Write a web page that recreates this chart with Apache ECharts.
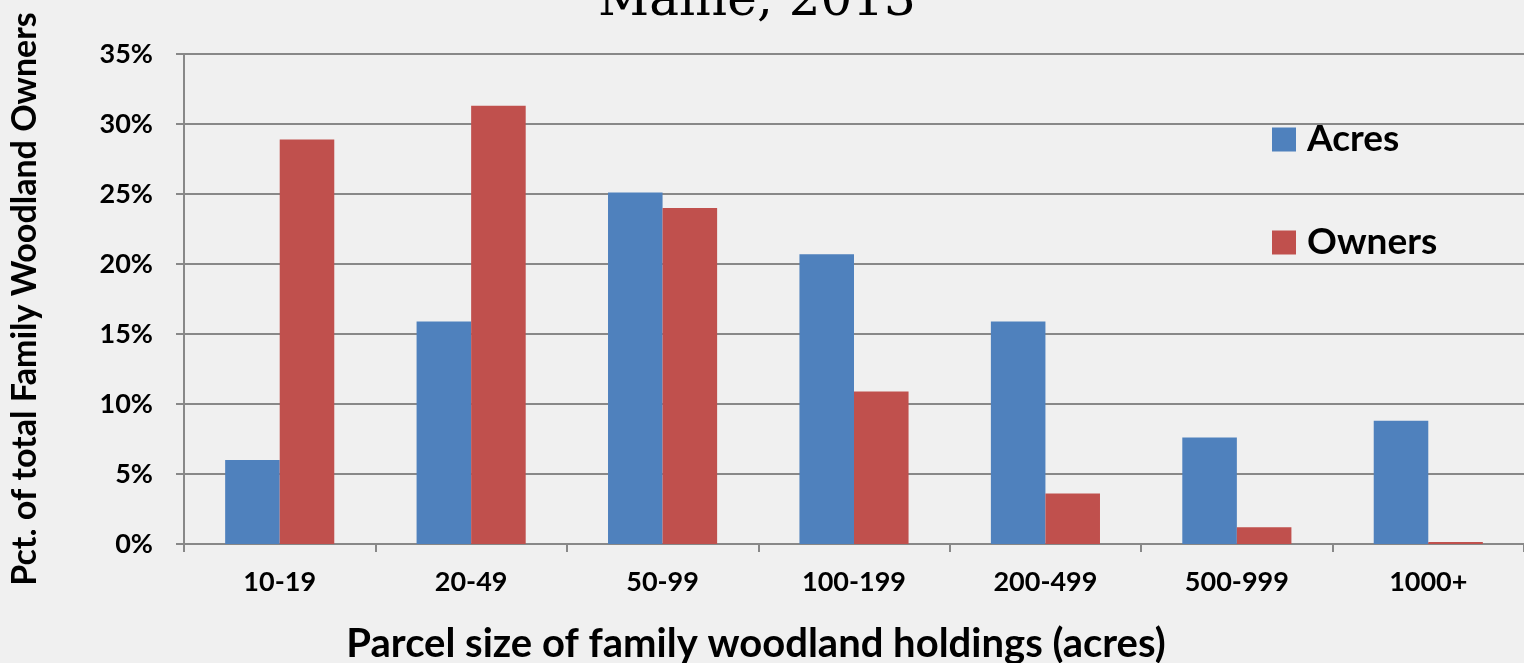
<!DOCTYPE html>
<html>
<head>
<meta charset="utf-8">
<script src="https://cdn.jsdelivr.net/npm/echarts@6/dist/echarts.min.js"></script>
<style>
html,body{margin:0;padding:0;background:#f0f0f0;overflow:hidden;}
#chart{width:1524px;height:663px;}
</style>
</head>
<body>
<div id="chart"></div>
<script>
var categories = ['10-19', '20-49', '50-99', '100-199', '200-499', '500-999', '1000+'];
var acres = [6.0, 15.9, 25.1, 20.7, 15.9, 7.6, 8.8];
var owners = [28.9, 31.3, 24.0, 10.9, 3.6, 1.2, 0.15];
var yTicks = [0, 5, 10, 15, 20, 25, 30, 35];

var font = 'Lato, "Open Sans", sans-serif';
var chart = echarts.init(document.getElementById('chart'));
chart.setOption({
  backgroundColor: '#f0f0f0',
  animation: false,
  title: {
    text: 'Maine, 2013',
    left: 752,
    textAlign: 'center',
    top: -28,
    textStyle: { fontFamily: '"DejaVu Serif", "Liberation Serif", serif', fontWeight: 'normal', fontSize: 50, color: '#000' }
  },
  legend: {
    orient: 'vertical',
    left: 1272,
    top: 121,
    itemWidth: 24,
    itemHeight: 24,
    itemGap: 66,
    icon: 'rect',
    padding: 0,
    textStyle: { fontFamily: font, fontWeight: 'bold', fontSize: 37, lineHeight: 24, color: '#000', padding: [0, 0, 0, 6] },
    data: ['Acres', 'Owners']
  },
  grid: { left: 184, right: 0, top: 54, bottom: 119, containLabel: false, outerBoundsMode: 'none' },
  xAxis: {
    type: 'category',
    data: categories,
    name: 'Parcel size of family woodland holdings (acres)',
    nameLocation: 'middle',
    nameGap: 80,
    nameTextStyle: { fontFamily: font, fontWeight: 'bold', fontSize: 40, color: '#000', padding: [0, 196, 0, 0] },
    axisLine: { lineStyle: { color: '#888', width: 2 } },
    axisTick: { show: true, length: 8, lineStyle: { color: '#888', width: 2 }, alignWithLabel: false },
    axisLabel: { fontFamily: font, fontWeight: 'bold', fontSize: 27, color: '#000', margin: 25 }
  },
  yAxis: {
    type: 'value',
    min: 0,
    max: 35,
    interval: 5,
    name: 'Pct. of total Family Woodland Owners',
    nameLocation: 'middle',
    nameGap: 142,
    nameTextStyle: { fontFamily: font, fontWeight: 'bold', fontSize: 34, color: '#000' },
    axisLine: { show: true, lineStyle: { color: '#888', width: 2 } },
    axisTick: { show: true, length: 8, lineStyle: { color: '#888', width: 2 } },
    axisLabel: {
      fontFamily: font, fontWeight: 'bold', fontSize: 27, color: '#000', margin: 31,
      formatter: function (v) { return yTicks.indexOf(v) >= 0 ? v + '%' : ''; }
    },
    splitLine: { show: true, lineStyle: { color: '#888', width: 2 } }
  },
  series: [
    {
      name: 'Acres', type: 'bar', data: acres, barGap: '0%', barCategoryGap: '43%',
      itemStyle: { color: '#4f81bd' }
    },
    {
      name: 'Owners', type: 'bar', data: owners, barGap: '0%', barCategoryGap: '43%',
      itemStyle: { color: '#c0504d' }
    }
  ]
});
</script>
</body>
</html>
